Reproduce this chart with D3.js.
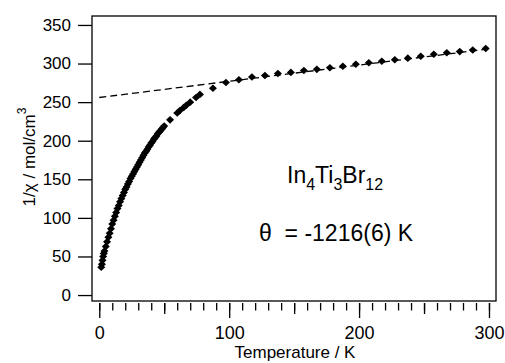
<!DOCTYPE html>
<html>
<head>
<meta charset="utf-8">
<script src="https://cdn.jsdelivr.net/npm/d3@7"></script>
<style>
  html, body { margin: 0; padding: 0; background: #fff; }
  svg { display: block; font-family: "Liberation Sans", Arial, sans-serif; }
</style>
</head>
<body>
<svg id="chart" width="505" height="363"></svg>
<script>
// temperature (K) and inverse susceptibility (mol/cm^3)
const lowT = [1.5, 2, 2.5, 3, 3.5, 4, 5, 6, 7, 8, 9, 10, 11, 12, 13, 14, 15, 16, 17, 18, 19, 20,
  21, 22, 23, 24, 25, 26, 27, 28, 29, 30, 31, 32, 33, 34, 35, 36, 37, 38, 39, 40,
  41, 42, 43, 44, 45, 46, 47, 48, 49, 50, 54.5, 60, 62, 65, 67, 70, 74.5, 77.5];
const lowInvChi = [36, 40, 45, 50, 54, 57, 63, 69, 75, 80, 86, 92, 97, 102, 107, 112, 116, 121, 125, 129, 133, 137,
  140, 144, 147, 151, 154, 157, 160, 163, 166, 169, 172, 175, 178, 181, 184, 186, 189, 192, 194, 197,
  199, 202, 204, 206, 209, 211, 213, 215, 217, 219, 227, 236, 239, 243, 246, 250, 256, 260];
const highT = [87.5, 97.5, 107.5, 117.5, 127.5, 137.5, 147.5, 157.5, 167.5, 177.5, 187.5,
  197.5, 207.5, 217.5, 227.5, 237.5, 247.5, 257.5, 267.5, 277.5, 287.5, 297.5];
const highInvChi = [268, 275.5, 279, 282.5, 284.5, 287, 288.5, 291, 292.5, 294.5, 296.5,
  299, 301, 303, 305, 307, 309.5, 312, 314, 315.5, 317.5, 319.5];
// Curie-Weiss fit line end points
const fitT = [0, 300];
const fitInvChi = [256, 319];
const xMajor = [0, 100, 200, 300];
const xMid = [50, 150, 250];
const xMinor = d3.range(0, 301, 10);
const yTicks = [0, 50, 100, 150, 200, 250, 300, 350];

const svg = d3.select('#chart');
const frame = { left: 92, right: 496, top: 16, bottom: 301 };
const x = d3.scaleLinear().domain([-5.6, 305.4]).range([frame.left, frame.right]);
const y = d3.scaleLinear().domain([-7.7, 361.6]).range([frame.bottom, frame.top]);

const points = lowT.map((t, i) => ({ t, v: lowInvChi[i] }))
  .concat(highT.map((t, i) => ({ t, v: highInvChi[i] })));
const fit = fitT.map((t, i) => ({ t, v: fitInvChi[i] }));

// x axis: minor / mid / major ticks hang 2px under the frame
const xAxisY = frame.bottom + 2;
const tickLayers = [
  { values: xMinor, size: 7.5, labels: false },
  { values: xMid, size: 11, labels: false },
  { values: xMajor, size: 15, labels: true },
];
for (const layer of tickLayers) {
  const g = svg.append('g').attr('transform', `translate(0,${xAxisY})`)
    .call(d3.axisBottom(x).tickValues(layer.values).tickSize(layer.size).tickPadding(8)
      .tickFormat(layer.labels ? d3.format('d') : ''));
  g.select('.domain').remove();
  g.selectAll('line').attr('stroke', '#000').attr('stroke-width', 1.3);
  g.selectAll('text').attr('font-size', 18).attr('fill', '#000')
    .attr('font-family', '"Liberation Sans", Arial, sans-serif');
}

const yAxis = svg.append('g').attr('transform', `translate(${frame.left},0)`)
  .call(d3.axisLeft(y).tickValues(yTicks).tickSize(14).tickPadding(7));
yAxis.select('.domain').remove();
yAxis.selectAll('line').attr('stroke', '#000').attr('stroke-width', 1.3);
yAxis.selectAll('text').attr('font-size', 17).attr('fill', '#000')
  .attr('font-family', '"Liberation Sans", Arial, sans-serif');

svg.append('rect')
  .attr('x', frame.left).attr('y', frame.top)
  .attr('width', frame.right - frame.left).attr('height', frame.bottom - frame.top)
  .attr('fill', 'none').attr('stroke', '#000').attr('stroke-width', 1.3);

svg.append('path').datum(fit)
  .attr('d', d3.line().x(d => x(d.t)).y(d => y(d.v)))
  .attr('fill', 'none').attr('stroke', '#000').attr('stroke-width', 1.3)
  .attr('stroke-dasharray', '7,4');

svg.append('g').selectAll('path.pt').data(points).join('path')
  .attr('class', 'pt')
  .attr('transform', d => `translate(${x(d.t)},${y(d.v)})`)
  .attr('d', 'M0,-3.8L4,0L0,3.8L-4,0Z')
  .attr('fill', '#000');

// axis titles
svg.append('text').attr('x', 295).attr('y', 358).attr('text-anchor', 'middle')
  .attr('font-size', 17).text('Temperature / K');

const yTitle = svg.append('text').attr('transform', 'translate(35,157) rotate(-90)')
  .attr('text-anchor', 'middle').attr('font-size', 17);
yTitle.append('tspan').text('1/χ / mol/cm');
yTitle.append('tspan').attr('font-size', 12).attr('dy', -9).text('3');

// annotations
const formula = svg.append('text').attr('x', 287).attr('y', 183).attr('font-size', 23);
[['In', 0], ['4', 1], ['Ti', 0], ['3', 1], ['Br', 0], ['12', 1]].forEach(([s, sub]) => {
  formula.append('tspan').attr('font-size', sub ? 16 : 23)
    .attr('dy', sub ? 7 : -7).text(s);
});
formula.select('tspan').attr('dy', 0);

svg.append('text').attr('x', 259).attr('y', 241).attr('font-size', 23)
  .attr('xml:space', 'preserve').style('white-space', 'pre')
  .text('θ  = -1216(6) K');
</script>
</body>
</html>
